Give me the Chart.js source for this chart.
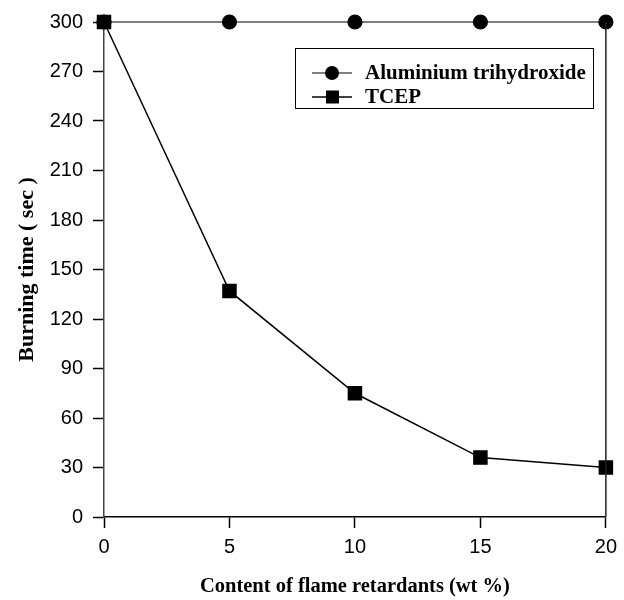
<!DOCTYPE html>
<html lang="en">
<head>
<meta charset="UTF-8">
<script src="https://cdn.jsdelivr.net/npm/chart.js"></script>
<title>Burning time</title>
<style>
  html, body { margin: 0; padding: 0; background: #fff; }
  #wrap { width: 624px; height: 600px; }
</style>
</head>
<body>
<div id="wrap"><canvas id="myChart" width="624" height="600"></canvas></div>
<script>
// data
const contents = [0, 5, 10, 15, 20];
const aluminium = [300, 300, 300, 300, 300];
const tcep = [300, 137, 75, 36, 30];
const seriesNames = ['Aluminium trihydroxide', 'TCEP'];

const serif = '"Liberation Serif", "Times New Roman", serif';
const sans = '"Liberation Sans", Arial, sans-serif';

// box legend drawn inside the plot, like the original
const boxLegend = {
  id: 'boxLegend',
  afterDraw(chart) {
    const c = chart.ctx;
    c.save();
    c.strokeStyle = '#000';
    c.lineWidth = 1;
    c.strokeRect(295.5, 48.5, 298, 60);
    const rows = [73, 97];
    chart.data.datasets.forEach((ds, i) => {
      const y = rows[i];
      c.beginPath();
      c.strokeStyle = '#000';
      c.lineWidth = ds.borderWidth;
      c.moveTo(312, y);
      c.lineTo(352, y);
      c.stroke();
      c.fillStyle = '#000';
      if (ds.pointStyle === 'circle') {
        c.beginPath();
        c.arc(332, y, 7, 0, Math.PI * 2);
        c.fill();
      } else {
        c.fillRect(326, y - 6.5, 13, 13);
      }
      c.font = 'bold 21px ' + serif;
      c.textBaseline = 'middle';
      c.fillText(ds.label, 365, y + 1);
    });
    // right frame edge
    const a = chart.chartArea;
    c.beginPath();
    c.strokeStyle = '#222';
    c.lineWidth = 1.5;
    c.moveTo(a.right, a.top);
    c.lineTo(a.right, a.bottom);
    c.stroke();
    c.restore();
  }
};

const ctx = document.getElementById('myChart').getContext('2d');
const myChart = new Chart(ctx, {
  type: 'line',
  data: {
    datasets: [
      {
        label: seriesNames[0],
        data: contents.map((x, i) => ({ x: x, y: aluminium[i] })),
        borderColor: '#000',
        backgroundColor: '#000',
        borderWidth: 1.2,
        pointStyle: 'circle',
        pointRadius: 7,
        pointHoverRadius: 7,
        clip: false
      },
      {
        label: seriesNames[1],
        data: contents.map((x, i) => ({ x: x, y: tcep[i] })),
        borderColor: '#000',
        backgroundColor: '#000',
        borderWidth: 1.5,
        pointStyle: 'rect',
        pointRadius: 9.2,
        pointHoverRadius: 9.2,
        clip: false
      }
    ]
  },
  options: {
    responsive: false,
    animation: false,
    layout: { padding: { top: 15, right: 15, left: 10, bottom: 0 } },
    plugins: { legend: { display: false }, tooltip: { enabled: false } },
    scales: {
      x: {
        type: 'linear',
        min: 0, max: 20,
        afterFit: (s) => { s.height = 83; },
        ticks: { stepSize: 5, color: '#000', font: { family: sans, size: 20 }, padding: 7 },
        grid: { drawOnChartArea: false, tickLength: 11, tickColor: '#000', tickWidth: 1.5 },
        border: { color: '#000', width: 1.5 },
        title: {
          display: true,
          text: 'Content of flame retardants (wt %)',
          color: '#000',
          font: { family: serif, size: 20.5, weight: 'bold', lineHeight: 0.95 },
          padding: { top: 12 }
        }
      },
      y: {
        min: 0, max: 300,
        afterFit: (s) => { s.width = 94; },
        ticks: { stepSize: 30, color: '#000', font: { family: sans, size: 20 }, padding: 10 },
        grid: { drawOnChartArea: false, tickLength: 11, tickColor: '#000', tickWidth: 1.5 },
        border: { color: '#444', width: 1.5 },
        title: {
          display: true,
          text: 'Burning time ( sec )',
          color: '#000',
          font: { family: serif, size: 22, weight: 'bold' },
          padding: { bottom: 4 }
        }
      }
    }
  },
  plugins: [boxLegend]
});
</script>
</body>
</html>
